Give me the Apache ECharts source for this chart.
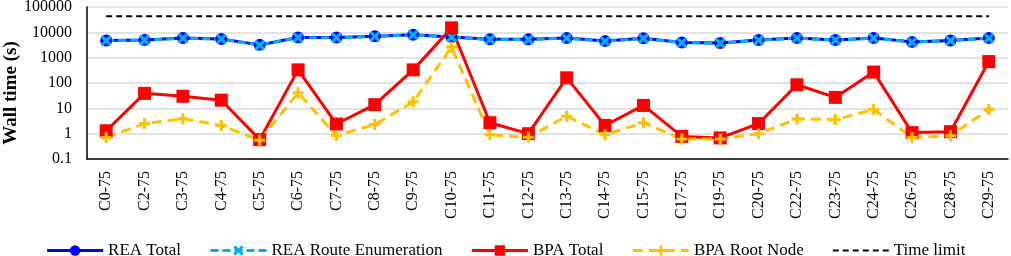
<!DOCTYPE html>
<html>
<head>
<meta charset="utf-8">
<script src="https://cdn.jsdelivr.net/npm/echarts@6/dist/echarts.min.js"></script>
<style>
  html, body { margin: 0; padding: 0; background: #fff; }
  #chart { width: 1011px; height: 256px; }
</style>
</head>
<body>
<div id="chart"></div>
<script>
const categories = ['C0-75', 'C2-75', 'C3-75', 'C4-75', 'C5-75', 'C6-75', 'C7-75', 'C8-75', 'C9-75', 'C10-75',
  'C11-75', 'C12-75', 'C13-75', 'C14-75', 'C15-75', 'C17-75', 'C19-75', 'C20-75', 'C22-75', 'C23-75',
  'C24-75', 'C26-75', 'C28-75', 'C29-75']

const reaTotal = [4800, 5000, 6000, 5500, 3200, 6300, 6200, 7000, 8000, 6500,
  5300, 5300, 6000, 4500, 5800, 4000, 3800, 5000, 6000, 5000,
  6000, 4200, 4800, 6000]
const reaRoute = [4700, 4900, 5900, 5400, 3100, 6200, 6100, 6900, 7900, 6400,
  5200, 5200, 5900, 4400, 5700, 3900, 3700, 4900, 5900, 4900,
  5900, 4100, 4700, 5900]
const bpaTotal = [1.3, 39, 30, 21, 0.58, 330, 2.4, 14, 330, 15000,
  2.7, 1.0, 160, 2.1, 13, 0.78, 0.68, 2.5, 85, 27,
  270, 1.1, 1.2, 700]
const bpaRoot = [0.7, 2.5, 3.9, 2.1, 0.55, 41, 0.85, 2.3, 18, 2600,
  0.9, 0.72, 4.9, 0.9, 2.7, 0.62, 0.62, 1.0, 3.8, 3.6,
  9, 0.7, 0.83, 9]
const timeLimit = 43200

const chart = echarts.init(document.getElementById('chart'))
const font = 'Liberation Serif'

// marker shapes: cross for route enumeration, plus for root node
const xPath = 'path://M2,0 L5,3 L8,0 L10,2 L7,5 L10,8 L8,10 L5,7 L2,10 L0,8 L3,5 L0,2 Z'
const plusPath = 'path://M3.6,0 H6.4 V3.6 H10 V6.4 H6.4 V10 H3.6 V6.4 H0 V3.6 H3.6 Z'

const option = {
  animation: false,
  grid: { left: 87, right: 3, top: 7, bottom: 97, outerBoundsMode: 'none', containLabel: false },
  // y axis title, placed by hand
  graphic: [{
    type: 'text',
    x: 11,
    y: 93,
    rotation: Math.PI / 2,
    style: {
      text: 'Wall time (s)',
      font: 'bold 19px "Liberation Serif"',
      fill: '#000',
      align: 'center',
      verticalAlign: 'middle'
    }
  }],
  legend: {
    top: 237,
    left: 'center',
    itemWidth: 56,
    itemHeight: 13,
    itemGap: 28,
    lineStyle: { width: 3 },
    textStyle: { fontFamily: font, fontSize: 17, color: '#000' },
    data: ['REA Total', 'REA Route Enumeration', 'BPA Total', 'BPA Root Node',
      { name: 'Time limit', itemStyle: { opacity: 0 }, lineStyle: { width: 2 } }]
  },
  xAxis: {
    type: 'category',
    data: categories,
    boundaryGap: true,
    axisLine: { lineStyle: { color: '#000', width: 1.5 } },
    axisTick: { alignWithLabel: true, length: 5, lineStyle: { color: '#000', width: 1.5 } },
    axisLabel: { rotate: 90, margin: 12, fontFamily: font, fontSize: 16, color: '#000', interval: 0 }
  },
  yAxis: {
    type: 'log',
    logBase: 10,
    min: 0.1,
    max: 100000,
    axisLine: { show: true, lineStyle: { color: '#000', width: 1.5 } },
    axisTick: { show: false },
    axisLabel: {
      fontFamily: font, fontSize: 16, color: '#000', margin: 15,
      formatter: v => String(+(+v).toPrecision(1))
    },
    splitLine: { lineStyle: { color: '#d9d9d9', width: 1.5 } }
  },
  series: [
    {
      name: 'REA Total',
      type: 'line',
      data: reaTotal,
      symbol: 'circle',
      symbolSize: 12,
      itemStyle: { color: '#0000ff' },
      lineStyle: { color: '#0000ff', width: 3 }
    },
    {
      name: 'REA Route Enumeration',
      type: 'line',
      data: reaRoute,
      symbol: xPath,
      symbolSize: 11,
      itemStyle: { color: '#00b0f0' },
      lineStyle: { color: '#00b0f0', width: 3, type: [8, 4] }
    },
    {
      name: 'BPA Total',
      type: 'line',
      data: bpaTotal,
      symbol: 'rect',
      symbolSize: 13,
      itemStyle: { color: '#ff0000' },
      lineStyle: { color: '#ff0000', width: 3 }
    },
    {
      name: 'BPA Root Node',
      type: 'line',
      data: bpaRoot,
      symbol: plusPath,
      symbolSize: 11,
      itemStyle: { color: '#ffc000' },
      lineStyle: { color: '#ffc000', width: 3, type: [10, 6] }
    },
    {
      name: 'Time limit',
      type: 'line',
      data: categories.map(() => timeLimit),
      symbol: 'none',
      itemStyle: { color: '#000' },
      lineStyle: { color: '#000', width: 2, type: [6, 4] }
    }
  ]
}

chart.setOption(option)
</script>
</body>
</html>
